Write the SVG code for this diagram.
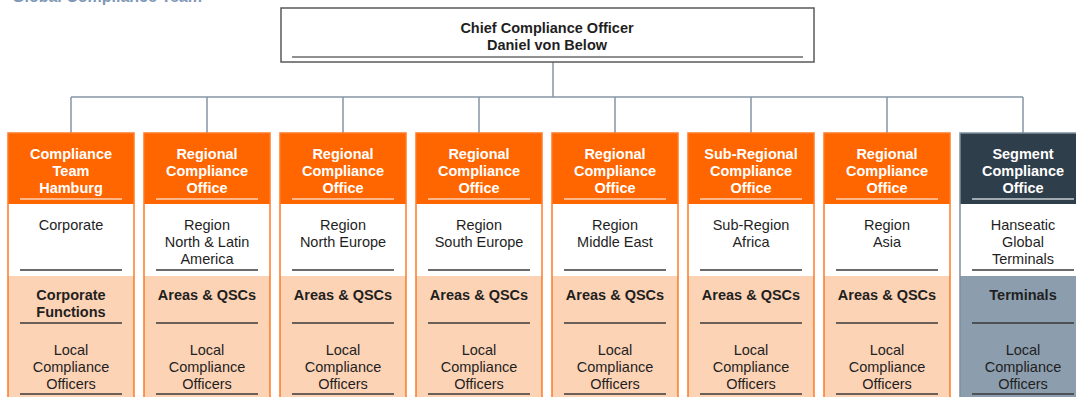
<svg xmlns="http://www.w3.org/2000/svg" width="1076" height="397" viewBox="0 0 1076 397">
<style>
text{font-family:"Liberation Sans",Arial,sans-serif;font-size:14.5px;text-anchor:middle}
.b{font-weight:bold}
.w{fill:#ffffff}
.d{fill:#1f1f1f}
.hdr{fill:#ff6600}
.hdrS{fill:#2f3e4b}
.wsec{fill:#ffffff}
.peach{fill:#fdd3b6}
.grey{fill:#8c9dad}
.obord{fill:none;stroke:#ff7a26;stroke-width:1.5}
.gbord{fill:none;stroke:#7f8e9c;stroke-width:1.5}
.ul{stroke:#3a3a3a;stroke-width:1.5}
.ulo{stroke:#fbd2b4;stroke-width:1.5}
.uls{stroke:#c9ced3;stroke-width:1.5}
.con{stroke:#8595a4;stroke-width:1.5;fill:none}
</style>
<text x="12" y="1.5" class="b" style="text-anchor:start;fill:#7f98b6;font-size:16px">Global Compliance Team</text>
<g id="connectors">
<path class="con" d="M553 62V97M71 97H1023M71 97V133M207 97V133M343 97V133M479 97V133M615 97V133M751 97V133M887 97V133M1023 97V133"/>
</g>
<g id="cco">
<rect x="281" y="8" width="533" height="54" fill="#ffffff" stroke="#5a5a5a" stroke-width="1.5"/>
<line x1="292" y1="57" x2="803" y2="57" stroke="#6b6b6b" stroke-width="1.5"/>
<text x="547" y="33" class="b d">Chief Compliance Officer</text>
<text x="547" y="50" class="b d">Daniel von Below</text>
</g>
<g id="col1">
<rect x="8" y="133" width="126" height="71" class="hdr"/><rect x="8" y="204" width="126" height="72" class="wsec"/><rect x="8" y="276" width="126" height="125" class="peach"/><rect x="8" y="133" width="126" height="268" class="obord"/>
<line x1="20" y1="199" x2="122" y2="199" class="ulo"/><line x1="20" y1="270" x2="122" y2="270" class="ul"/><line x1="20" y1="323" x2="122" y2="323" class="ul"/><line x1="20" y1="394" x2="122" y2="394" class="ul"/>
<text x="71" y="159" class="b w">Compliance</text><text x="71" y="176" class="b w">Team</text><text x="71" y="193" class="b w">Hamburg</text>
<text x="71" y="230" class="d">Corporate</text>
<text x="71" y="300" class="b d">Corporate</text><text x="71" y="317" class="b d">Functions</text>
<text x="71" y="355" class="d">Local</text><text x="71" y="372" class="d">Compliance</text><text x="71" y="389" class="d">Officers</text>
</g>
<g id="col2">
<rect x="144" y="133" width="126" height="71" class="hdr"/><rect x="144" y="204" width="126" height="72" class="wsec"/><rect x="144" y="276" width="126" height="125" class="peach"/><rect x="144" y="133" width="126" height="268" class="obord"/>
<line x1="156" y1="199" x2="258" y2="199" class="ulo"/><line x1="156" y1="270" x2="258" y2="270" class="ul"/><line x1="156" y1="323" x2="258" y2="323" class="ul"/><line x1="156" y1="394" x2="258" y2="394" class="ul"/>
<text x="207" y="159" class="b w">Regional</text><text x="207" y="176" class="b w">Compliance</text><text x="207" y="193" class="b w">Office</text>
<text x="207" y="230" class="d">Region</text><text x="207" y="247" class="d">North &amp; Latin</text><text x="207" y="264" class="d">America</text>
<text x="207" y="300" class="b d">Areas &amp; QSCs</text>
<text x="207" y="355" class="d">Local</text><text x="207" y="372" class="d">Compliance</text><text x="207" y="389" class="d">Officers</text>
</g>
<g id="col3">
<rect x="280" y="133" width="126" height="71" class="hdr"/><rect x="280" y="204" width="126" height="72" class="wsec"/><rect x="280" y="276" width="126" height="125" class="peach"/><rect x="280" y="133" width="126" height="268" class="obord"/>
<line x1="292" y1="199" x2="394" y2="199" class="ulo"/><line x1="292" y1="270" x2="394" y2="270" class="ul"/><line x1="292" y1="323" x2="394" y2="323" class="ul"/><line x1="292" y1="394" x2="394" y2="394" class="ul"/>
<text x="343" y="159" class="b w">Regional</text><text x="343" y="176" class="b w">Compliance</text><text x="343" y="193" class="b w">Office</text>
<text x="343" y="230" class="d">Region</text><text x="343" y="247" class="d">North Europe</text>
<text x="343" y="300" class="b d">Areas &amp; QSCs</text>
<text x="343" y="355" class="d">Local</text><text x="343" y="372" class="d">Compliance</text><text x="343" y="389" class="d">Officers</text>
</g>
<g id="col4">
<rect x="416" y="133" width="126" height="71" class="hdr"/><rect x="416" y="204" width="126" height="72" class="wsec"/><rect x="416" y="276" width="126" height="125" class="peach"/><rect x="416" y="133" width="126" height="268" class="obord"/>
<line x1="428" y1="199" x2="530" y2="199" class="ulo"/><line x1="428" y1="270" x2="530" y2="270" class="ul"/><line x1="428" y1="323" x2="530" y2="323" class="ul"/><line x1="428" y1="394" x2="530" y2="394" class="ul"/>
<text x="479" y="159" class="b w">Regional</text><text x="479" y="176" class="b w">Compliance</text><text x="479" y="193" class="b w">Office</text>
<text x="479" y="230" class="d">Region</text><text x="479" y="247" class="d">South Europe</text>
<text x="479" y="300" class="b d">Areas &amp; QSCs</text>
<text x="479" y="355" class="d">Local</text><text x="479" y="372" class="d">Compliance</text><text x="479" y="389" class="d">Officers</text>
</g>
<g id="col5">
<rect x="552" y="133" width="126" height="71" class="hdr"/><rect x="552" y="204" width="126" height="72" class="wsec"/><rect x="552" y="276" width="126" height="125" class="peach"/><rect x="552" y="133" width="126" height="268" class="obord"/>
<line x1="564" y1="199" x2="666" y2="199" class="ulo"/><line x1="564" y1="270" x2="666" y2="270" class="ul"/><line x1="564" y1="323" x2="666" y2="323" class="ul"/><line x1="564" y1="394" x2="666" y2="394" class="ul"/>
<text x="615" y="159" class="b w">Regional</text><text x="615" y="176" class="b w">Compliance</text><text x="615" y="193" class="b w">Office</text>
<text x="615" y="230" class="d">Region</text><text x="615" y="247" class="d">Middle East</text>
<text x="615" y="300" class="b d">Areas &amp; QSCs</text>
<text x="615" y="355" class="d">Local</text><text x="615" y="372" class="d">Compliance</text><text x="615" y="389" class="d">Officers</text>
</g>
<g id="col6">
<rect x="688" y="133" width="126" height="71" class="hdr"/><rect x="688" y="204" width="126" height="72" class="wsec"/><rect x="688" y="276" width="126" height="125" class="peach"/><rect x="688" y="133" width="126" height="268" class="obord"/>
<line x1="700" y1="199" x2="802" y2="199" class="ulo"/><line x1="700" y1="270" x2="802" y2="270" class="ul"/><line x1="700" y1="323" x2="802" y2="323" class="ul"/><line x1="700" y1="394" x2="802" y2="394" class="ul"/>
<text x="751" y="159" class="b w">Sub-Regional</text><text x="751" y="176" class="b w">Compliance</text><text x="751" y="193" class="b w">Office</text>
<text x="751" y="230" class="d">Sub-Region</text><text x="751" y="247" class="d">Africa</text>
<text x="751" y="300" class="b d">Areas &amp; QSCs</text>
<text x="751" y="355" class="d">Local</text><text x="751" y="372" class="d">Compliance</text><text x="751" y="389" class="d">Officers</text>
</g>
<g id="col7">
<rect x="824" y="133" width="126" height="71" class="hdr"/><rect x="824" y="204" width="126" height="72" class="wsec"/><rect x="824" y="276" width="126" height="125" class="peach"/><rect x="824" y="133" width="126" height="268" class="obord"/>
<line x1="836" y1="199" x2="938" y2="199" class="ulo"/><line x1="836" y1="270" x2="938" y2="270" class="ul"/><line x1="836" y1="323" x2="938" y2="323" class="ul"/><line x1="836" y1="394" x2="938" y2="394" class="ul"/>
<text x="887" y="159" class="b w">Regional</text><text x="887" y="176" class="b w">Compliance</text><text x="887" y="193" class="b w">Office</text>
<text x="887" y="230" class="d">Region</text><text x="887" y="247" class="d">Asia</text>
<text x="887" y="300" class="b d">Areas &amp; QSCs</text>
<text x="887" y="355" class="d">Local</text><text x="887" y="372" class="d">Compliance</text><text x="887" y="389" class="d">Officers</text>
</g>
<g id="col8">
<rect x="960" y="133" width="126" height="71" class="hdrS"/><rect x="960" y="204" width="126" height="72" class="wsec"/><rect x="960" y="276" width="126" height="125" class="grey"/><rect x="960" y="133" width="126" height="268" class="gbord"/>
<line x1="972" y1="199" x2="1074" y2="199" class="uls"/><line x1="972" y1="270" x2="1074" y2="270" class="ul"/><line x1="972" y1="323" x2="1074" y2="323" class="ul"/><line x1="972" y1="394" x2="1074" y2="394" class="ul"/>
<text x="1023" y="159" class="b w">Segment</text><text x="1023" y="176" class="b w">Compliance</text><text x="1023" y="193" class="b w">Office</text>
<text x="1023" y="230" class="d">Hanseatic</text><text x="1023" y="247" class="d">Global</text><text x="1023" y="264" class="d">Terminals</text>
<text x="1023" y="300" class="b d">Terminals</text>
<text x="1023" y="355" class="d">Local</text><text x="1023" y="372" class="d">Compliance</text><text x="1023" y="389" class="d">Officers</text>
</g>
</svg>
